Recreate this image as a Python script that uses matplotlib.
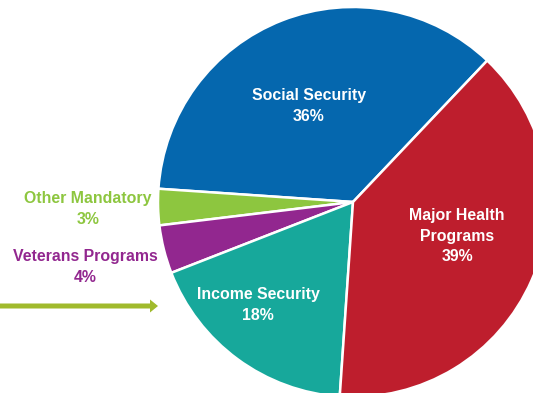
import matplotlib.pyplot as plt
from matplotlib.patches import FancyArrow

# Mandatory spending shares (percent)
labels = ["Social Security", "Other Mandatory", "Veterans Programs", "Income Security", "Major Health\nPrograms"]
shares = [36, 3, 4, 18, 39]
colors = ["#0567AE", "#8DC63F", "#92278F", "#17A89B", "#BE1E2D"]

plt.rcParams['font.family'] = ['Liberation Sans', 'DejaVu Sans']

fig = plt.figure(figsize=(5.33, 3.93), dpi=100)
ax = fig.add_axes([0, 0, 1, 1])

# pie center at pixel (353, 202), radius 195 px
R = 195.0
cx, cy = 353.0, 202.0
W, H = 533.0, 393.0

def px(x, y):
    return (x - cx) / R, (cy - y) / R

ax.pie(shares, colors=colors, startangle=46.5, counterclock=True,
       radius=1.0, center=(0, 0),
       wedgeprops=dict(edgecolor="white", linewidth=1.8))

ax.set_xlim(-cx / R, (W - cx) / R)
ax.set_ylim(-(H - cy) / R, cy / R)
ax.set_aspect('equal')
ax.axis('off')

def pct(v):
    return f"{v}%"

fs = 11.4
ls = 1.45

def label(xp, yp, text, color):
    x, y = px(xp, yp)
    ax.text(x, y, text, color=color, fontsize=fs, fontweight="bold",
            ha="center", va="center", linespacing=ls)

# labels inside wedges
label(309, 106, f"{labels[0]}\n{pct(shares[0])}", "white")
label(457, 236, f"{labels[4]}\n{pct(shares[4])}", "white")
label(258, 305, f"{labels[3]}\n{pct(shares[3])}", "white")

# small slices labelled outside
label(88, 209, f"{labels[1]}\n{pct(shares[1])}", "#8DC63F")
label(85, 267, f"{labels[2]}\n{pct(shares[2])}", "#92278F")

# arrow on the left pointing at the pie
x0, y0 = px(0, 306)
x1, _ = px(158, 306)
ax.add_patch(FancyArrow(x0, y0, x1 - x0, 0, width=5 / R, head_width=13 / R,
                        head_length=8 / R, length_includes_head=True,
                        color="#A0BA2C", linewidth=0))

fig.savefig("out.png", dpi=100)
